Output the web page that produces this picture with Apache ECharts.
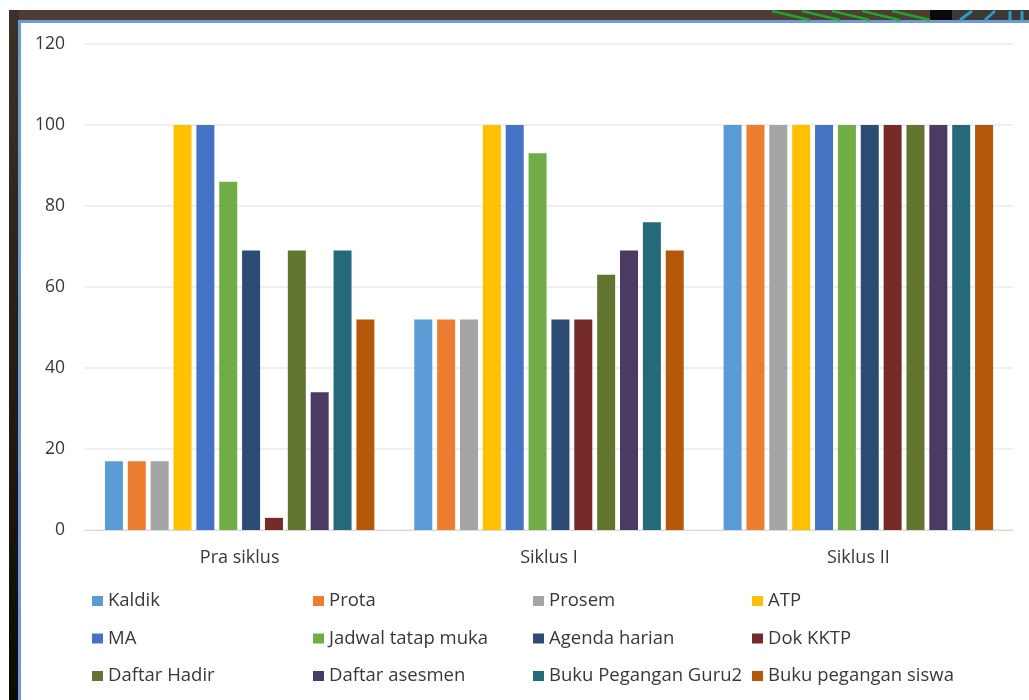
<!DOCTYPE html>
<html>
<head>
<meta charset="utf-8">
<script src="https://cdn.jsdelivr.net/npm/echarts@6/dist/echarts.min.js"></script>
<style>
  html, body { margin: 0; padding: 0; background: #ffffff; }
  #chart { width: 1029px; height: 700px; }
</style>
</head>
<body>
<div id="chart"></div>
<script>
// Stages of the cycle
const categories = ['Pra siklus', 'Siklus I', 'Siklus II'];

// Document names (one series each)
const seriesNames = [
  'Kaldik', 'Prota', 'Prosem', 'ATP',
  'MA', 'Jadwal tatap muka', 'Agenda harian', 'Dok KKTP',
  'Daftar Hadir', 'Daftar asesmen', 'Buku Pegangan Guru2', 'Buku pegangan siswa'
];

// Percentage per stage: [Pra siklus, Siklus I, Siklus II]
const kaldik = [17, 52, 100];
const prota = [17, 52, 100];
const prosem = [17, 52, 100];
const atp = [100, 100, 100];
const ma = [100, 100, 100];
const jadwalTatapMuka = [86, 93, 100];
const agendaHarian = [69, 52, 100];
const dokKktp = [3, 52, 100];
const daftarHadir = [69, 63, 100];
const daftarAsesmen = [34, 69, 100];
const bukuGuru2 = [69, 76, 100];
const bukuSiswa = [52, 69, 100];

const yTicks = [0, 20, 40, 60, 80, 100, 120];

const seriesValues = [
  kaldik, prota, prosem, atp,
  ma, jadwalTatapMuka, agendaHarian, dokKktp,
  daftarHadir, daftarAsesmen, bukuGuru2, bukuSiswa
];

const palette = [
  '#5b9bd5', '#ed7d31', '#a5a5a5', '#ffc000',
  '#4472c4', '#70ad47', '#2c4b75', '#772a2a',
  '#627530', '#4b3a61', '#256a7a', '#b5580a'
];

const textColor = '#383838';
const fontFamily = '"Open Sans", "Noto Sans", sans-serif';

// Legend laid out as four columns of three rows
const legendCols = [0, 1, 2, 3].map(c => [c, c + 4, c + 8].map(i => seriesNames[i]));
const legendLefts = [92, 313, 533, 752];

const chart = echarts.init(document.getElementById('chart'), null, { renderer: 'canvas' });

// Wood frame and panel border around the white plot panel
const frame = [
  { type: 'rect', shape: { x: 9, y: 10, width: 1020, height: 11 },
    style: { fill: '#4d3d33' }, z: 0 },
  { type: 'rect', shape: { x: 9, y: 10, width: 10, height: 690 },
    style: { fill: new echarts.graphic.LinearGradient(0, 0, 0, 1, [
      { offset: 0, color: '#3f3128' }, { offset: 1, color: '#0e0a08' }]) }, z: 0 },
  { type: 'rect', shape: { x: 930, y: 10, width: 22, height: 11 },
    style: { fill: '#0c0a09' }, z: 0 },
  { type: 'rect', shape: { x: 952, y: 10, width: 77, height: 11 },
    style: { fill: '#3c3836' }, z: 0 },
  { type: 'rect', shape: { x: 18, y: 20, width: 1011, height: 3 },
    style: { fill: '#6d9bd8' }, z: 1 },
  { type: 'rect', shape: { x: 18, y: 20, width: 3, height: 680 },
    style: { fill: '#6d9bd8' }, z: 1 }
];
// green stripes along the top edge
[772, 802, 832, 862, 892].forEach(x => {
  frame.push({ type: 'line', shape: { x1: x, y1: 11, x2: x + 38, y2: 20 },
    style: { stroke: '#1fa52a', lineWidth: 2.5 }, z: 1 });
});
// cyan marks at the top right
[[960, 20, 972, 11], [985, 20, 995, 11], [1010, 20, 1010, 11], [1022, 20, 1022, 11]].forEach(p => {
  frame.push({ type: 'line', shape: { x1: p[0], y1: p[1], x2: p[2], y2: p[3] },
    style: { stroke: '#2a9cc0', lineWidth: 3 }, z: 1 });
});

const option = {
  backgroundColor: '#ffffff',
  animation: false,
  color: palette,
  textStyle: { fontFamily: fontFamily },
  graphic: frame,
  grid: { left: 85, right: 16, top: 44, bottom: 170, containLabel: false },
  legend: legendCols.map((names, c) => ({
    data: names,
    orient: 'vertical',
    left: legendLefts[c],
    top: 591,
    icon: 'rect',
    itemWidth: 11,
    itemHeight: 10,
    itemGap: 17.5,
    padding: 0,
    selectedMode: false,
    textStyle: { color: textColor, fontSize: 18.5, lineHeight: 20, fontFamily: fontFamily }
  })),
  xAxis: {
    type: 'category',
    data: categories,
    axisLine: { show: true, lineStyle: { color: '#d9d9d9', width: 1 } },
    axisTick: { show: false },
    axisLabel: { color: textColor, fontSize: 18, margin: 19, fontFamily: fontFamily }
  },
  yAxis: {
    type: 'value',
    min: yTicks[0],
    max: yTicks[yTicks.length - 1],
    interval: 20,
    axisLine: { show: false },
    axisTick: { show: false },
    axisLabel: { color: textColor, fontSize: 17.5, margin: 20, fontFamily: fontFamily },
    splitLine: { lineStyle: { color: '#ebebeb', width: 1.5 } }
  },
  series: seriesNames.map((name, i) => ({
    name: name,
    type: 'bar',
    data: seriesValues[i],
    barWidth: 18,
    barGap: '27%',
    itemStyle: { color: palette[i] }
  }))
};

chart.setOption(option);
</script>
</body>
</html>
